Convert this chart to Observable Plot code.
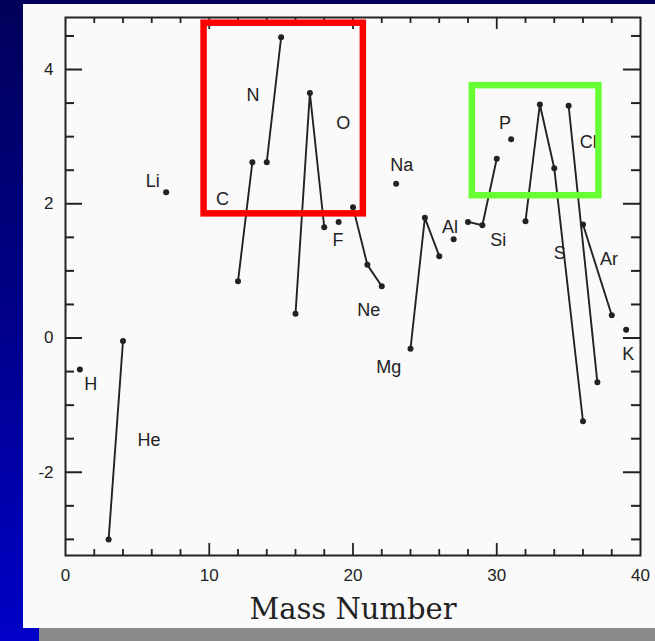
<!DOCTYPE html>
<html>
<head>
<meta charset="utf-8">
<script src="https://cdn.jsdelivr.net/npm/d3@7"></script>
<script src="https://cdn.jsdelivr.net/npm/@observablehq/plot@0.6"></script>
<style>
  html, body { margin: 0; padding: 0; }
  #wrap { position: relative; width: 655px; height: 641px; overflow: hidden;
          background: linear-gradient(180deg, #00005a 0%, #00008a 50%, #0000c8 100%); }
  #panel { position: absolute; left: 23px; top: 4px; width: 632px; height: 624px; background: #fafafa; }
  #strip { position: absolute; left: 39px; top: 628px; width: 616px; height: 13px; background: #8a8a8a; }
  #chart { position: absolute; left: 0; top: 0; }
</style>
</head>
<body>
<div id="wrap">
  <div id="panel"></div>
  <div id="strip"></div>
  <div id="chart"></div>
</div>
<script>
// ---- data ----
const element = ["H","He","He","Li","C","C","N","N","O","O","O","F","Ne","Ne","Ne","Na",
                 "Mg","Mg","Mg","Al","Si","Si","Si","P","S","S","S","S","Cl","Cl","Ar","Ar","K"];
const massNumber = [1,3,4,7,12,13,14,15,16,17,18,19,20,21,22,23,
                    24,25,26,27,28,29,30,31,32,33,34,36,35,37,36,38,39];
const value = [-0.47,-3.0,-0.045,2.17,0.845,2.62,2.62,4.48,0.36,3.65,1.65,1.73,1.95,1.09,0.77,2.30,
               -0.16,1.79,1.22,1.47,1.73,1.68,2.67,2.96,1.74,3.48,2.53,-1.24,3.46,-0.66,1.69,0.34,0.125];

// element labels (anchor in data units)
const labelText  = ["H","He","Li","C","N","O","F","Ne","Na","Mg","Al","Si","P","Cl","S","Ar","K"];
const labelMass  = [1.76,5.81,6.07,10.92,13.05,19.33,18.96,21.09,23.39,22.48,26.75,30.11,30.57,36.37,34.39,37.8,39.15];
const labelValue = [-0.69,-1.53,2.34,2.07,3.62,3.20,1.46,0.41,2.57,-0.44,1.65,1.46,3.20,2.92,1.26,1.17,-0.24];

// axis ticks
const xTickLabels = [0,10,20,30,40];
const xTickMarks = [2,4,6,8,10,12,14,16,18,20,22,24,26,28,30,32,34,36,38];
const xMajorMarks = [10,20,30];
const yTickLabels = [-2,0,2,4];
const yTickMarks = [-3,-2.5,-2,-1.5,-1,-0.5,0,0.5,1,1.5,2,2.5,3,3.5,4,4.5];
const yMajorMarks = [-2,0,2,4];
const xTitle = "Mass Number";

// highlight boxes (data units)
const boxName = ["red","green"];
const boxX1 = [9.64, 28.3];
const boxX2 = [20.72, 37.11];
const boxY1 = [1.85, 2.12];
const boxY2 = [4.69, 3.76];
const boxColor = ["#ff0000", "#66ff33"];

// ---- build ----
const points = element.map((e, i) => ({element: e, mass: massNumber[i], value: value[i]}));
const labels = labelText.map((t, i) => ({text: t, mass: labelMass[i], value: labelValue[i]}));
const boxes = boxName.map((n, i) => ({name: n, x1: boxX1[i], x2: boxX2[i], y1: boxY1[i], y2: boxY2[i], color: boxColor[i]}));

const W = 655, H = 641, mL = 65, mR = 15, mT = 17, mB = 86;
const xDom = [0, 40], yDom = [-3.24, 4.775];
const kx = (W - mL - mR) / (xDom[1] - xDom[0]);
const ky = (H - mT - mB) / (yDom[1] - yDom[0]);
const ink = "#222";
const yLen = d => (yMajorMarks.includes(d) ? 17 : 9) / kx;
const xLen = d => (xMajorMarks.includes(d) ? 12 : 6) / ky;
const fmt = d => String(d);

const chart = Plot.plot({
  width: W, height: H,
  marginLeft: mL, marginRight: mR, marginTop: mT, marginBottom: mB,
  style: {background: "transparent", fontFamily: "'Liberation Sans', Arial, sans-serif", color: ink},
  x: {domain: xDom},
  y: {domain: yDom},
  marks: [
    Plot.frame({stroke: ink, strokeWidth: 2}),
    // inward tick marks on all four sides
    Plot.ruleY(yTickMarks, {y: d => d, x1: xDom[0], x2: d => xDom[0] + yLen(d), stroke: ink, strokeWidth: 2}),
    Plot.ruleY(yTickMarks, {y: d => d, x1: d => xDom[1] - yLen(d), x2: xDom[1], stroke: ink, strokeWidth: 2}),
    Plot.ruleX(xTickMarks, {x: d => d, y1: yDom[0], y2: d => yDom[0] + xLen(d), stroke: ink, strokeWidth: 1.8}),
    Plot.ruleX(xTickMarks, {x: d => d, y1: d => yDom[1] - xLen(d), y2: yDom[1], stroke: ink, strokeWidth: 1.8}),
    Plot.axisX(xTickLabels, {tickSize: 0, tickPadding: 13, fontSize: 17, fontWeight: 500, label: null, fill: ink, tickFormat: fmt}),
    Plot.axisY(yTickLabels, {tickSize: 0, tickPadding: 12, fontSize: 17, fontWeight: 500, label: null, fill: ink, tickFormat: fmt}),
    Plot.text([xTitle], {frameAnchor: "bottom", text: d => d, dy: 63, fontSize: 29,
                         fontFamily: "'DejaVu Serif', serif", fill: ink}),
    // isotope lines and points
    Plot.line(points, {x: "mass", y: "value", z: "element", stroke: ink, strokeWidth: 1.9}),
    Plot.dot(points, {x: "mass", y: "value", r: 3, fill: ink, stroke: "none"}),
    Plot.text(labels, {x: "mass", y: "value", text: "text", fontSize: 18, fill: ink}),
    // highlight boxes
    Plot.rect(boxes, {x1: "x1", x2: "x2", y1: "y1", y2: "y2", stroke: "color", fill: "none", strokeWidth: 6.5})
  ]
});
document.getElementById("chart").appendChild(chart);
</script>
</body>
</html>
